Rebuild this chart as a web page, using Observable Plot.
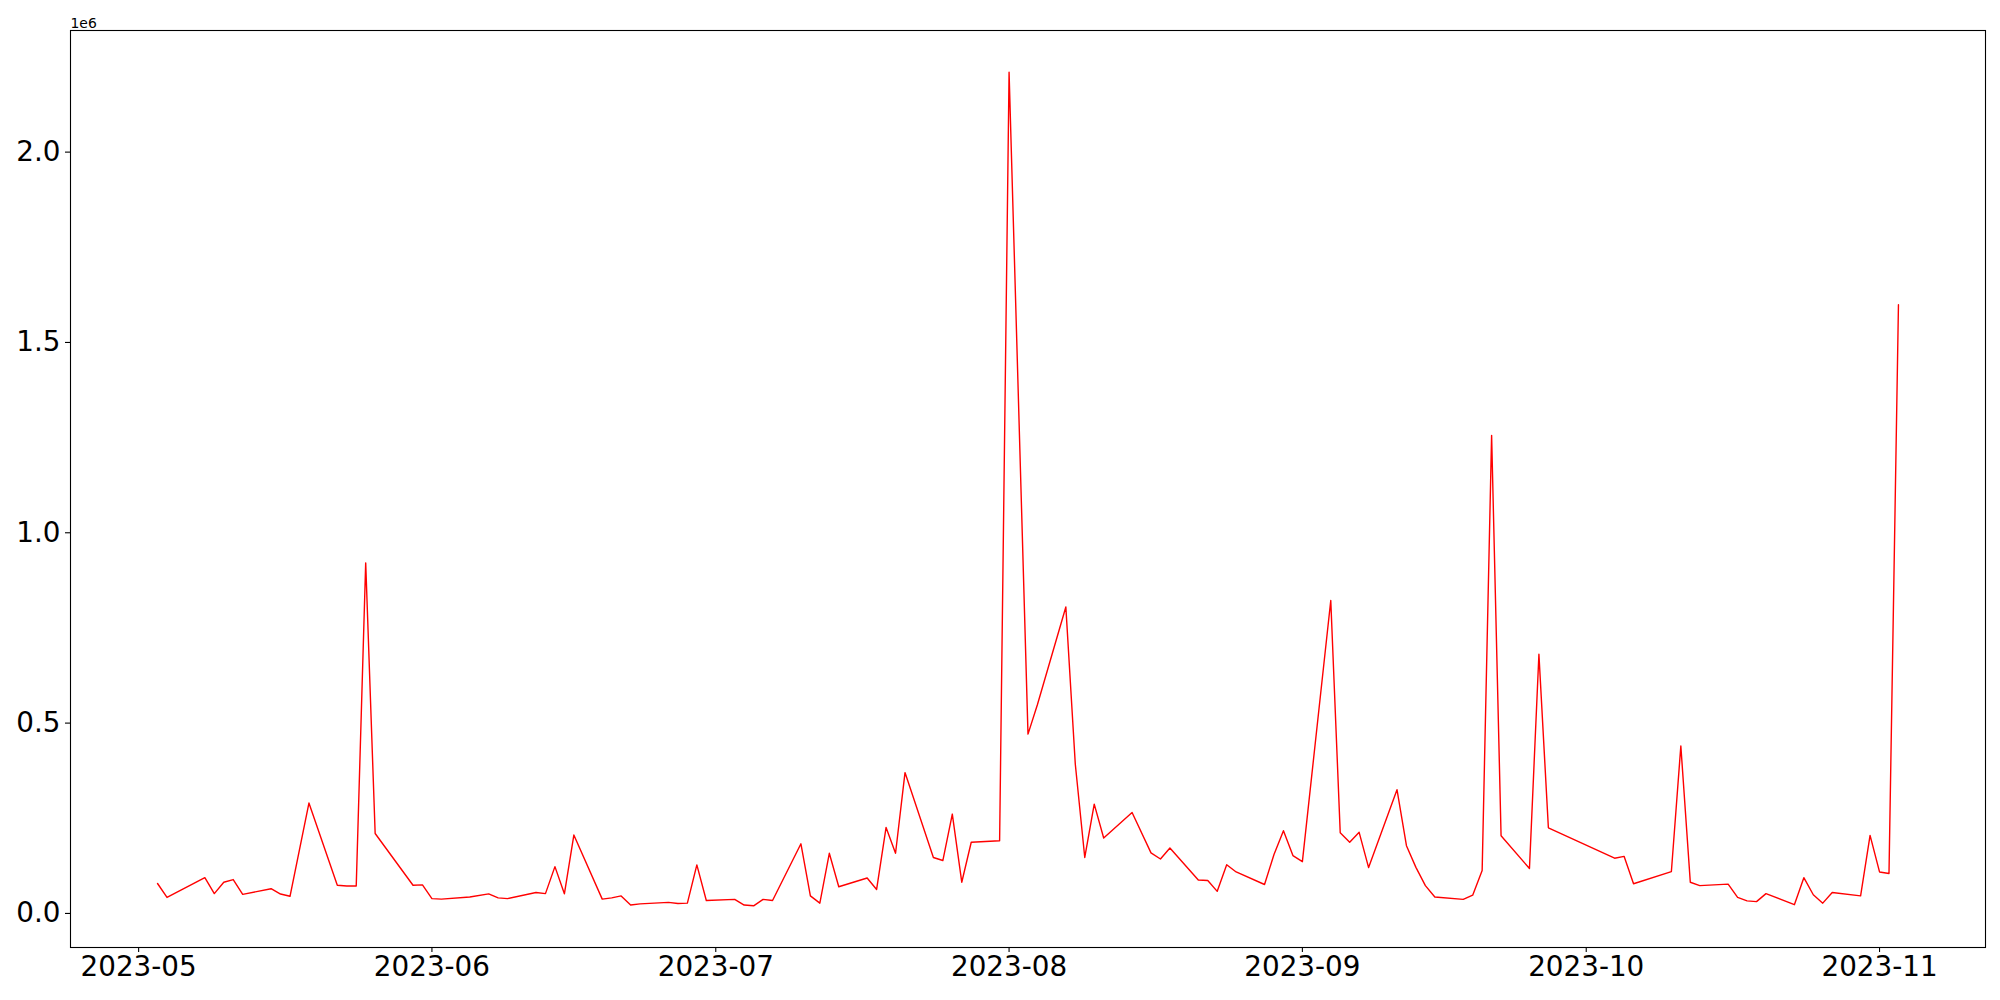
<!DOCTYPE html>
<html>
<head>
<meta charset="utf-8">
<script src="https://cdn.jsdelivr.net/npm/d3@7"></script>
<script src="https://cdn.jsdelivr.net/npm/@observablehq/plot@0.6"></script>
<style>
  html, body { margin: 0; padding: 0; background: white; overflow: hidden; }
  #chart svg { display: block; }
</style>
</head>
<body>
<div id="chart"></div>
<script>
const dates = [
  "2023-05-03","2023-05-04","2023-05-08","2023-05-09","2023-05-10","2023-05-11","2023-05-12",
  "2023-05-15","2023-05-16","2023-05-17","2023-05-19","2023-05-22","2023-05-23","2023-05-24",
  "2023-05-25","2023-05-26","2023-05-30","2023-05-31","2023-06-01","2023-06-02","2023-06-05",
  "2023-06-07","2023-06-08","2023-06-09","2023-06-12","2023-06-13","2023-06-14","2023-06-15",
  "2023-06-16","2023-06-19","2023-06-20","2023-06-21","2023-06-22","2023-06-23","2023-06-26",
  "2023-06-27","2023-06-28","2023-06-29","2023-06-30","2023-07-03","2023-07-04","2023-07-05",
  "2023-07-06","2023-07-07","2023-07-10","2023-07-11","2023-07-12","2023-07-13","2023-07-14",
  "2023-07-17","2023-07-18","2023-07-19","2023-07-20","2023-07-21","2023-07-24","2023-07-25",
  "2023-07-26","2023-07-27","2023-07-28","2023-07-31","2023-08-01","2023-08-03","2023-08-04",
  "2023-08-07","2023-08-08","2023-08-09","2023-08-10","2023-08-11","2023-08-14","2023-08-16",
  "2023-08-17","2023-08-18","2023-08-21","2023-08-22","2023-08-23","2023-08-24","2023-08-25",
  "2023-08-28","2023-08-29","2023-08-30","2023-08-31","2023-09-01","2023-09-04","2023-09-05",
  "2023-09-06","2023-09-07","2023-09-08","2023-09-11","2023-09-12","2023-09-13","2023-09-14",
  "2023-09-15","2023-09-18","2023-09-19","2023-09-20","2023-09-21","2023-09-22","2023-09-25",
  "2023-09-26","2023-09-27","2023-10-04","2023-10-05","2023-10-06","2023-10-10","2023-10-11",
  "2023-10-12","2023-10-13","2023-10-16","2023-10-17","2023-10-18","2023-10-19","2023-10-20",
  "2023-10-23","2023-10-24","2023-10-25","2023-10-26","2023-10-27","2023-10-30","2023-10-31",
  "2023-11-01","2023-11-02","2023-11-03"
];
const values = [
  78600, 42000, 94000, 52000, 82000, 89000, 50000,
  65000, 51000, 45000, 290000, 74000, 72000, 72000,
  921000, 210000, 74000, 75000, 39000, 37500, 43000,
  51500, 41000, 39000, 55000, 52000, 123000, 51500,
  206000, 37600, 41000, 46000, 22000, 25000, 29000,
  26000, 27000, 127500, 34000, 37000, 22000, 20000,
  37000, 34000, 183000, 46000, 27000, 158000, 70000,
  93000, 63000, 226000, 158000, 370000, 147000, 139000,
  261000, 82000, 187000, 191000, 2210000, 471000, 549000,
  805000, 392000, 147000, 287000, 198000, 265000, 159000,
  143000, 172000, 88000, 86500, 58000, 128000, 109000,
  76000, 155000, 217500, 152000, 136000, 822000, 212000,
  187000, 213000, 120500, 325000, 178000, 121000, 73000,
  43000, 37000, 48000, 113000, 1256000, 204000, 118000,
  681000, 225000, 145000, 150000, 78000, 110000, 440000,
  82000, 73000, 77000, 42000, 33000, 31000, 52000,
  23000, 94000, 49000, 27000, 55000, 46000, 205000,
  109000, 105000, 1599000
];
const yTickValues = [0, 500000, 1000000, 1500000, 2000000];
const xTickLabels = ["2023-05","2023-06","2023-07","2023-08","2023-09","2023-10","2023-11"];
const offsetLabel = "1e6";

const data = dates.map((d, i) => ({date: new Date(d + "T00:00:00Z"), value: values[i]}));

const t0 = +data[0].date, t1 = +data[data.length - 1].date;
const tPad = 0.05 * (t1 - t0);
const vMin = d3.min(values), vMax = d3.max(values);
const vPad = 0.05 * (vMax - vMin);
const xTicks = xTickLabels.map(s => new Date(s + "-01T00:00:00Z"));

const FS = 27.8;
const chart = Plot.plot({
  width: 2000,
  height: 1000,
  marginLeft: 70,
  marginRight: 15,
  marginTop: 30,
  marginBottom: 53,
  style: {fontFamily: "'DejaVu Sans', sans-serif", background: "white", color: "black"},
  x: {type: "utc", domain: [new Date(t0 - tPad), new Date(t1 + tPad)]},
  y: {domain: [vMin - vPad, vMax + vPad]},
  marks: [
    Plot.lineY(data, {x: "date", y: "value", stroke: "red", strokeWidth: 1.4}),
    Plot.frame({stroke: "black", strokeWidth: 1.1}),
    Plot.axisX({ticks: xTicks, tickFormat: d3.utcFormat("%Y-%m"), tickSize: 5, tickPadding: 4, fontSize: FS, strokeWidth: 1.1, label: null}),
    Plot.axisY({ticks: yTickValues, tickFormat: d => (d / 1e6).toFixed(1), tickSize: 5, tickPadding: 5, fontSize: FS, strokeWidth: 1.1, label: null}),
    Plot.text([offsetLabel], {frameAnchor: "top-left", text: d => d, textAnchor: "start", lineAnchor: "bottom", dy: -3, fontSize: 13.9, fill: "black"})
  ]
});
document.getElementById("chart").appendChild(chart);
</script>
</body>
</html>
